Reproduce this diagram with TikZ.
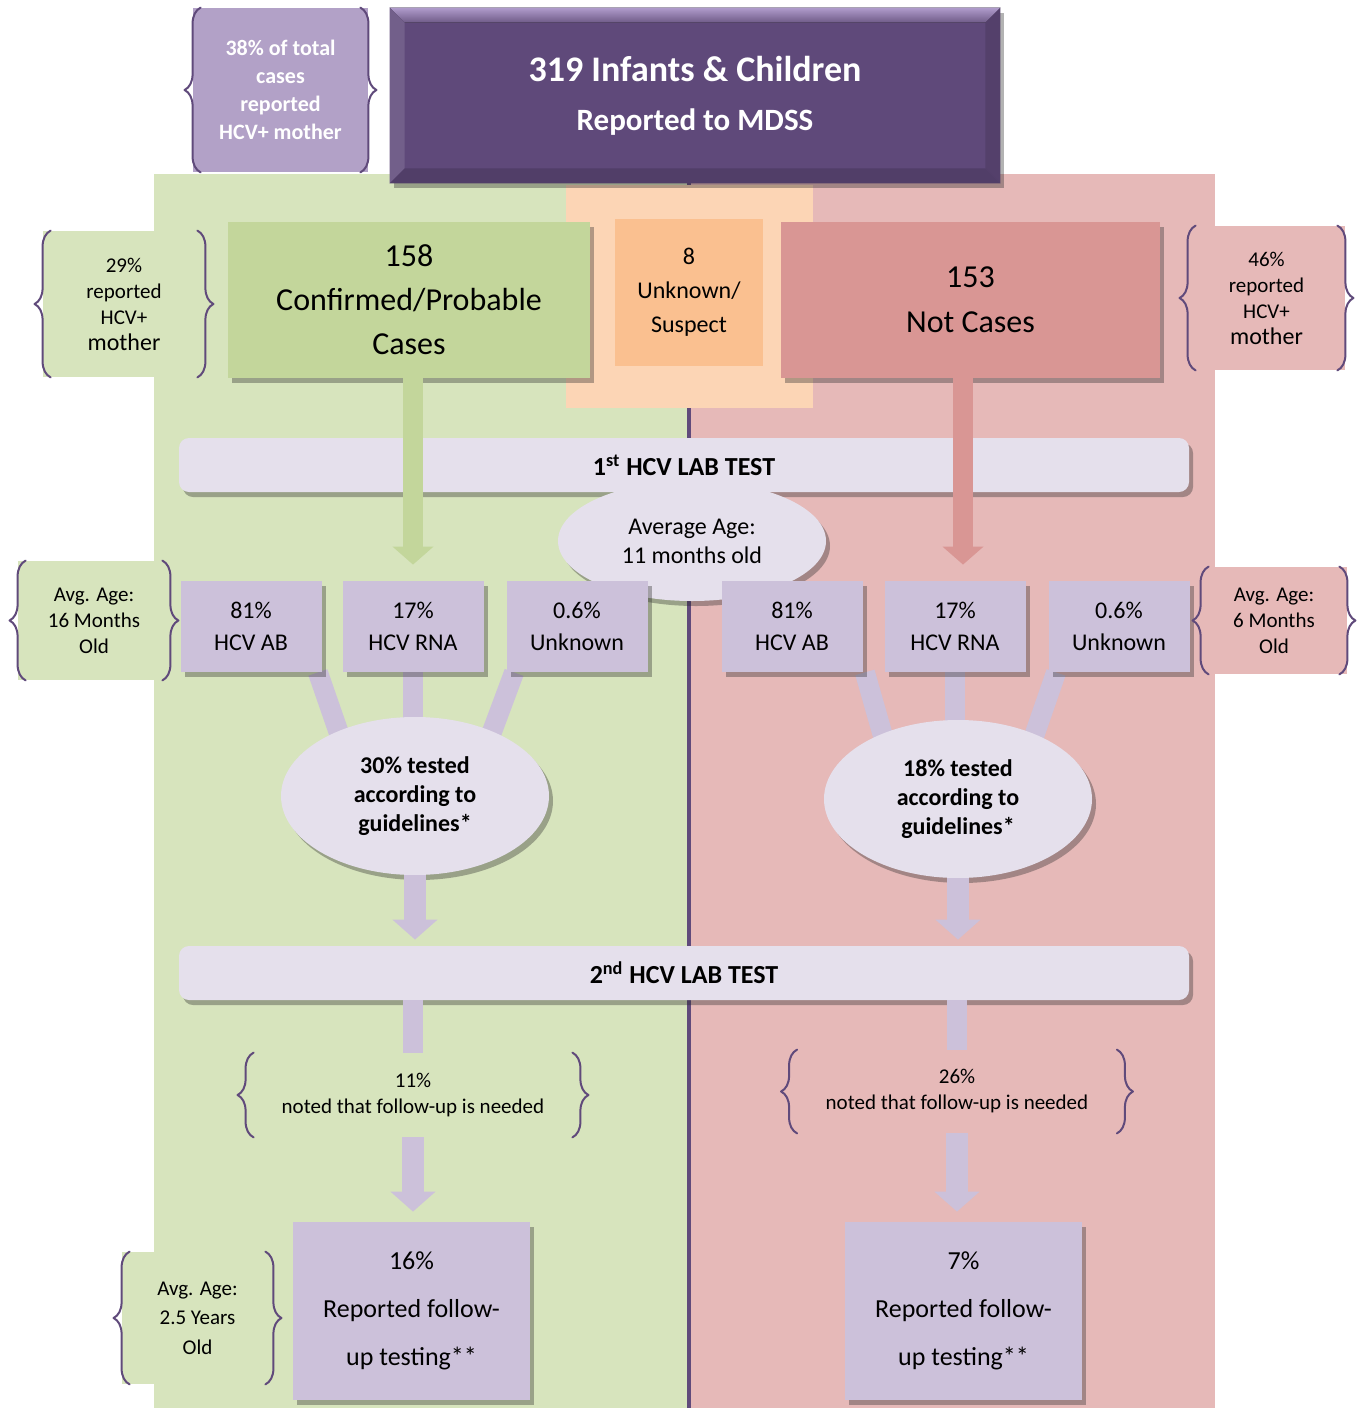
\documentclass[tikz,border=0pt]{standalone}
\usepackage{fontspec}
\setmainfont{Carlito}
\usetikzlibrary{arrows.meta,shadows,shapes.geometric,decorations.pathreplacing}
\definecolor{grpanel}{HTML}{D7E4BD}
\definecolor{rdpanel}{HTML}{E6B9B8}
\definecolor{pcpanel}{HTML}{FCD5B5}
\definecolor{grbox}{HTML}{C3D69B}
\definecolor{rdbox}{HTML}{D99694}
\definecolor{pcbox}{HTML}{FAC090}
\definecolor{lavbox}{HTML}{CCC1DA}
\definecolor{lavbar}{HTML}{E5E0EC}
\definecolor{darkpurp}{HTML}{5F497A}
\definecolor{topbev}{HTML}{B09CCC}
\definecolor{notepurp}{HTML}{B2A1C7}
\definecolor{bracecol}{HTML}{604A7B}
\newcommand{\fsz}[2]{\fontsize{#1}{#2}\selectfont}
\pgfdeclarelayer{back}
\pgfdeclarelayer{mid}
\pgfsetlayers{back,mid,main}
\tikzset{
  shad/.style={drop shadow={shadow xshift=2pt,shadow yshift=-2.5pt,opacity=0.35,fill=black!85}},
  sbox/.style={rectangle,align=center,inner sep=2pt,shad},
  nbox/.style={rectangle,align=center,inner sep=1pt},
  curly/.style={decorate,decoration={brace,amplitude=8pt,raise=-4pt},draw=bracecol,line width=1pt},
  fatline/.style={line cap=butt,line width=10pt},
  fatarrow/.style={line cap=butt,line width=10pt,-{Triangle[width=20pt,length=9pt]}},
  fatarrowb/.style={line cap=butt,line width=11pt,-{Triangle[width=22pt,length=10pt]}}
}
\begin{document}
\begin{tikzpicture}[x=0.5pt,y=-0.5pt,line cap=round,line join=round]
\useasboundingbox (0,0) rectangle (1360,1408);
\begin{pgfonlayer}{back}
\fill[white] (0,0) rectangle (1360,1408);
\fill[grpanel] (154,174) rectangle (690,1408);
\fill[rdpanel] (690,174) rectangle (1215,1408);
\coordinate (divtop) at (689,183);
\coordinate (divbot) at (689,1408);
\draw[bracecol,line width=2pt,line cap=butt] (divtop) -- (divbot);
\fill[pcpanel] (566,185) rectangle (813,408);
\end{pgfonlayer}
% top
\node[sbox,fill=darkpurp,minimum width=305pt,minimum height=87.5pt,text=white,font=\fsz{18}{24.5}\bfseries] (top) at (695,95.5) {319 Infants \& Children\\{\fsz{15.5}{24.5}Reported to MDSS}};
\fill[top color=topbev,bottom color=darkpurp!90!white] (top.north west) -- (top.north east) -- ([xshift=-7.5pt,yshift=-7.5pt]top.north east) -- ([xshift=7.5pt,yshift=-7.5pt]top.north west) -- cycle;
\fill[darkpurp!88!white] (top.north west) -- ([xshift=7.5pt,yshift=-7.5pt]top.north west) -- ([xshift=7.5pt,yshift=7.5pt]top.south west) -- (top.south west) -- cycle;
\fill[darkpurp!88!black] (top.north east) -- ([xshift=-7.5pt,yshift=-7.5pt]top.north east) -- ([xshift=-7.5pt,yshift=7.5pt]top.south east) -- (top.south east) -- cycle;
\fill[darkpurp!85!black] (top.south west) -- ([xshift=7.5pt,yshift=7.5pt]top.south west) -- ([xshift=-7.5pt,yshift=7.5pt]top.south east) -- (top.south east) -- cycle;
\node[nbox,fill=notepurp,minimum width=87.5pt,minimum height=82pt,text=white,font=\fsz{11}{14}\bfseries] (topnote) at (280.5,90) {38\% of total\\cases\\reported\\HCV+ mother};
% cases
\node[sbox,fill=grbox,minimum width=181pt,minimum height=78pt,font=\fsz{16}{22}] (conf) at (409,300) {158\\Confirmed/Probable\\Cases};
\node[nbox,fill=pcbox,minimum width=74pt,minimum height=73.5pt,font=\fsz{12}{17}] (unk) at (689,292.5) {8\\Unknown/\\Suspect};
\node[sbox,fill=rdbox,minimum width=189.5pt,minimum height=78pt,font=\fsz{16}{22.5}] (notc) at (970.5,300) {153\\Not Cases};
\node[nbox,fill=grpanel,minimum width=81pt,minimum height=73pt,font=\fsz{10.5}{13}] (mothL) at (124,304) {29\%\\reported\\HCV+\\{\fsz{12}{13}mother}};
\node[nbox,fill=rdpanel,minimum width=78.5pt,minimum height=72pt,font=\fsz{10.5}{13}] (mothR) at (1266.5,298) {46\%\\reported\\HCV+\\{\fsz{12}{13}mother}};
% first test
\node[sbox,fill=lavbar,rounded corners=5pt,minimum width=505pt,minimum height=27pt,font=\fsz{13}{15}\bfseries] (lab1) at (684,465) {1\textsuperscript{st} HCV LAB TEST};
\node[ellipse,fill=lavbar,shad,minimum width=134pt,minimum height=60pt,inner sep=0pt,align=center,font=\fsz{12}{14.5}] (avg) at (692,541) {Average Age:\\11 months old};
\node[sbox,fill=lavbox,minimum width=70.5pt,minimum height=45.5pt,font=\fsz{12}{16}] (L1) at (251,626.5) {81\%\\HCV AB};
\node[sbox,fill=lavbox,minimum width=70.5pt,minimum height=45.5pt,font=\fsz{12}{16}] (L2) at (413,626.5) {17\%\\HCV RNA};
\node[sbox,fill=lavbox,minimum width=70.5pt,minimum height=45.5pt,font=\fsz{12}{16}] (L3) at (577,626.5) {0.6\%\\Unknown};
\node[sbox,fill=lavbox,minimum width=70.5pt,minimum height=45.5pt,font=\fsz{12}{16}] (R1) at (792,626.5) {81\%\\HCV AB};
\node[sbox,fill=lavbox,minimum width=70.5pt,minimum height=45.5pt,font=\fsz{12}{16}] (R2) at (955,626.5) {17\%\\HCV RNA};
\node[sbox,fill=lavbox,minimum width=70.5pt,minimum height=45.5pt,font=\fsz{12}{16}] (R3) at (1119,626.5) {0.6\%\\Unknown};
\node[nbox,fill=grpanel,minimum width=76pt,minimum height=59.5pt,font=\fsz{10.5}{13}] (ageL) at (94,620.5) {Avg. Age:\\16 Months\\Old};
\node[nbox,fill=rdpanel,minimum width=73pt,minimum height=53.5pt,font=\fsz{10.5}{13}] (ageR) at (1274,620.5) {Avg. Age:\\6 Months\\Old};
\draw[fatarrow,grbox,shorten >=8pt] (L2.north |- conf.south) -- (L2.north);
\draw[fatarrow,rdbox,shorten >=8pt] ([xshift=4pt]R2.north |- notc.south) -- ([xshift=4pt]R2.north);
% guidelines
\node[ellipse,fill=lavbar,shad,minimum width=134pt,minimum height=79pt,inner sep=0pt,align=center,font=\fsz{12}{14.5}\bfseries] (ellL) at (415,796) {30\% tested\\according to\\guidelines*};
\node[ellipse,fill=lavbar,shad,minimum width=134pt,minimum height=79pt,inner sep=0pt,align=center,font=\fsz{12}{14.5}\bfseries] (ellR) at (958,799) {18\% tested\\according to\\guidelines*};
\begin{pgfonlayer}{mid}
\draw[fatline,lavbox] ([xshift=-2pt]L1.south east) -- ([xshift=-35pt,yshift=-17pt]ellL.north);
\draw[fatline,lavbox] (L2.south) -- (L2.south |- ellL.center);
\draw[fatline,lavbox] ([xshift=4pt]L3.south west) -- ([xshift=35pt,yshift=-17pt]ellL.north);
\draw[fatline,lavbox] ([xshift=1pt]R1.south east) -- ([xshift=-35pt,yshift=-17pt]ellR.north);
\draw[fatline,lavbox] (R2.south) -- (R2.south |- ellR.center);
\draw[fatline,lavbox] ([xshift=4pt]R3.south west) -- ([xshift=35pt,yshift=-17pt]ellR.north);
\end{pgfonlayer}
% second test
\node[sbox,fill=lavbar,rounded corners=5pt,minimum width=505pt,minimum height=27pt,font=\fsz{13}{15}\bfseries] (lab2) at (684,973) {2\textsuperscript{nd} HCV LAB TEST};
\draw[fatarrowb,lavbox,shorten >=3pt] (ellL.south) -- (ellL.south |- lab2.north);
\draw[fatarrowb,lavbox,shorten >=3pt] (ellR.south) -- (ellR.south |- lab2.north);
\node[nbox,minimum width=167pt,minimum height=42pt,font=\fsz{10.5}{13}] (folL) at (413,1095) {11\%\\noted that follow-up is needed};
\node[nbox,minimum width=167.5pt,minimum height=41.5pt,font=\fsz{10.5}{13}] (folR) at (957,1091.5) {26\%\\noted that follow-up is needed};
\node[sbox,fill=lavbox,minimum width=118.5pt,minimum height=89pt,font=\fsz{13}{24}] (repL) at (411.5,1311) {16\%\\Reported follow-\\up testing**};
\node[sbox,fill=lavbox,minimum width=118.5pt,minimum height=89pt,font=\fsz{13}{24}] (repR) at (963.5,1311) {7\%\\Reported follow-\\up testing**};
\node[nbox,fill=grpanel,minimum width=75.5pt,minimum height=66pt,font=\fsz{10.5}{14.7}] (ageB) at (197.5,1318) {Avg. Age:\\2.5 Years\\Old};
\draw[fatline,lavbox] (lab2.south -| folL.north) -- (folL.north);
\draw[fatline,lavbox] (lab2.south -| folR.north) -- (folR.north);
\draw[fatarrowb,lavbox,shorten >=5pt] (folL.south) -- (folL.south |- repL.north);
\draw[fatarrowb,lavbox,shorten >=5pt] (folR.south) -- (folR.south |- repR.north);
% braces
\foreach \n in {topnote,mothL,mothR,ageL,ageR,folL,folR,ageB}{
  \draw[curly] (\n.south west) -- (\n.north west);
  \draw[curly] (\n.north east) -- (\n.south east);
}
\end{tikzpicture}
\end{document}
